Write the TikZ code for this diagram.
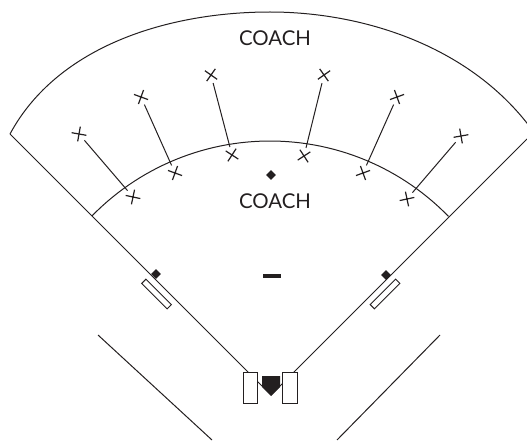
\documentclass[tikz,border=0pt]{standalone}
\usepackage{fontspec}
\setmainfont{Lato}
\usetikzlibrary{shapes.misc,shapes.geometric}
\definecolor{ink}{HTML}{231F20}
\tikzset{
  base/.style={line width=1pt,draw=ink},
  player/.style={cross out,draw=ink,line width=1.2pt,minimum size=10.6pt,inner sep=0pt,outer sep=0pt},
  route/.style={base,shorten >=3pt,shorten <=3pt},
  label/.style={text=ink,font=\fontsize{20.4}{22}\selectfont,inner sep=0pt},
  spot/.style={fill=ink,minimum size=7pt,inner sep=0pt,rotate=45,outer sep=0pt},
  bag/.style={base,fill=white,minimum width=36pt,minimum height=6pt,inner sep=0pt,outer sep=0pt},
  box/.style={base,fill=white,minimum width=14.5pt,minimum height=31pt,inner sep=0pt,outer sep=0pt}
}
\begin{document}
\begin{tikzpicture}[x=1pt,y=-1pt]
\useasboundingbox (0,0) rectangle (527,441);
\coordinate (ol) at (10,134);
\coordinate (or) at (527,139);
\coordinate (home) at (271,395);
\coordinate (il) at (92,216);
\coordinate (ir) at (448,217);
\begin{scope}
\clip (0,0) rectangle (527,441);
\draw[base] (ol) .. controls (58,45) and (170,12) .. (270,12) .. controls (360,12) and (467,44) .. (530,127);
\end{scope}
\draw[base] plot[domain=135.6:44.2,samples=60] ({270+249*cos(\x)},{390-249*sin(\x)});
\draw[base] (ol) -- (home) -- (or);
\coordinate (a1) at (98,335); \coordinate (a2) at (212,440);
\coordinate (b1) at (440,335); \coordinate (b2) at (337,440);
\draw[base] (a1) -- (a2);
\draw[base] (b1) -- (b2);
\node[player,rotate=35] (u1) at (79,134) {};
\node[player,rotate=25] (u2) at (141,97) {};
\node[player,rotate=10] (u3) at (211,75) {};
\node[player,rotate=-10] (u4) at (324,75) {};
\node[player,rotate=-25] (u5) at (397,97) {};
\node[player,rotate=-35] (u6) at (461,136) {};
\node[player,rotate=33] (l1) at (133,197) {};
\node[player,rotate=25] (l2) at (175,173) {};
\node[player,rotate=12] (l3) at (232,155) {};
\node[player,rotate=-12] (l4) at (304,156) {};
\node[player,rotate=-25] (l5) at (363,173) {};
\node[player,rotate=-33] (l6) at (407,199) {};
\foreach \i in {1,...,6} \draw[route] (u\i) -- (l\i);
\node[label] (c1) at (275,38) {COACH};
\node[label] (c2) at (275,201) {COACH};
\node[spot] (d1) at (271,175) {};
\node[spot] (d2) at (156,274) {};
\node[spot] (d3) at (386,275) {};
\node[fill=ink,minimum width=18pt,minimum height=4pt,inner sep=0pt] (rubber) at (272,276) {};
\node[bag,rotate=-45] (b1n) at (156.5,294) {};
\node[bag,rotate=45] (b3n) at (385,294) {};
\node[box] (lb) at (250.7,387.5) {};
\node[box] (rb) at (290,387.5) {};
\fill[ink] (262,376) -- (280,376) -- (280,387) -- (271,396) -- (262,387) -- cycle;
\end{tikzpicture}
\end{document}
